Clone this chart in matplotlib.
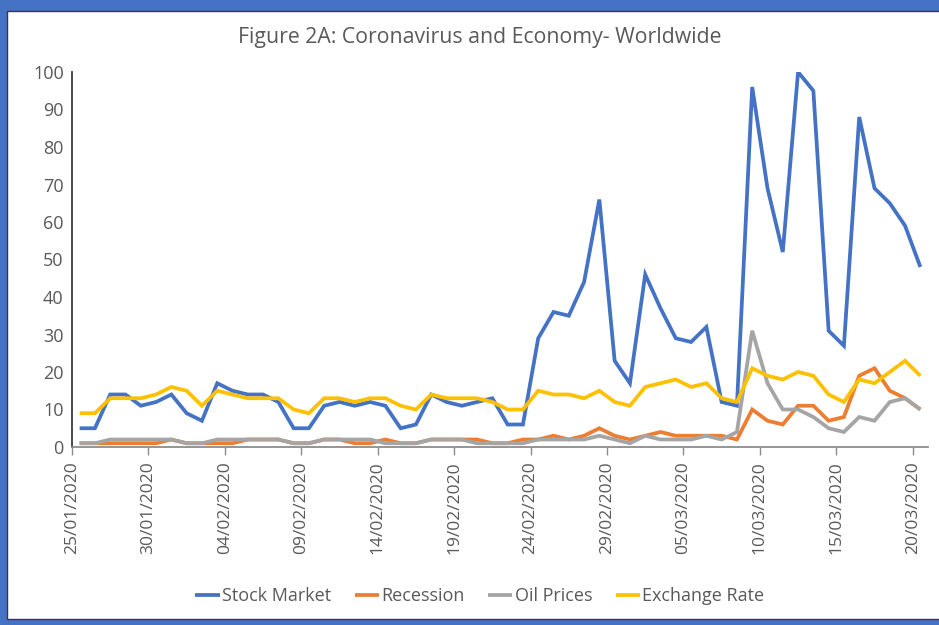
import matplotlib
matplotlib.use("Agg")
import matplotlib.pyplot as plt
import matplotlib.dates as mdates
from matplotlib.patches import Rectangle
import numpy as np
import pandas as pd

plt.rcParams['font.family'] = ['Open Sans', 'DejaVu Sans']

# daily search interest, 25/01/2020 .. 20/03/2020
dates = pd.date_range('2020-01-25', '2020-03-20', freq='D')

stock_market = [5, 5, 14, 14, 11, 12, 14, 9, 7, 17,
                15, 14, 14, 12, 5, 5, 11, 12, 11, 12,
                11, 5, 6, 14, 12, 11, 12, 13, 6, 6,
                29, 36, 35, 44, 66, 23, 17, 46, 37, 29,
                28, 32, 12, 11, 96, 69, 52, 100, 95, 31,
                27, 88, 69, 65, 59, 48]
recession = [1, 1, 1, 1, 1, 1, 2, 1, 1, 1,
             1, 2, 2, 2, 1, 1, 2, 2, 1, 1,
             2, 1, 1, 2, 2, 2, 2, 1, 1, 2,
             2, 3, 2, 3, 5, 3, 2, 3, 4, 3,
             3, 3, 3, 2, 10, 7, 6, 11, 11, 7,
             8, 19, 21, 15, 13, 10]
oil_prices = [1, 1, 2, 2, 2, 2, 2, 1, 1, 2,
              2, 2, 2, 2, 1, 1, 2, 2, 2, 2,
              1, 1, 1, 2, 2, 2, 1, 1, 1, 1,
              2, 2, 2, 2, 3, 2, 1, 3, 2, 2,
              2, 3, 2, 4, 31, 17, 10, 10, 8, 5,
              4, 8, 7, 12, 13, 10]
exchange_rate = [9, 9, 13, 13, 13, 14, 16, 15, 11, 15,
                 14, 13, 13, 13, 10, 9, 13, 13, 12, 13,
                 13, 11, 10, 14, 13, 13, 13, 12, 10, 10,
                 15, 14, 14, 13, 15, 12, 11, 16, 17, 18,
                 16, 17, 13, 12, 21, 19, 18, 20, 19, 14,
                 12, 18, 17, 20, 23, 19]

series = [("Stock Market", stock_market, "#4472C4"),
          ("Recession", recession, "#ED7D31"),
          ("Oil Prices", oil_prices, "#A5A5A5"),
          ("Exchange Rate", exchange_rate, "#FFC000")]

W, H = 939, 625
fig = plt.figure(figsize=(W / 100, H / 100), dpi=100)
fig.patch.set_facecolor("#4472C4")

# white chart area inside the blue frame
fig.add_artist(Rectangle((7 / W, 1 - 619 / H), 1.0, (619 - 11) / H,
                         transform=fig.transFigure, facecolor="white",
                         edgecolor="#3a3a3a", linewidth=1.0, zorder=0))

ax = fig.add_axes([72 / W, 1 - 447 / H, (928 - 72) / W, (447 - 72) / H])
ax.set_facecolor("none")

# points sit in the middle of each day slot
xpos = mdates.date2num(dates) + 0.5
for name, vals, col in series:
    ax.plot(xpos, vals, color=col, linewidth=2.7, label=name,
            solid_joinstyle="miter", solid_capstyle="butt")

x0 = mdates.date2num(dates[0])
ax.set_xlim(x0, x0 + len(dates))
ax.set_ylim(0, 100)
ax.set_yticks(np.arange(0, 101, 10))

tick_dates = dates[::5]
ax.set_xticks(mdates.date2num(tick_dates))
ax.set_xticklabels([d.strftime('%d/%m/%Y') for d in tick_dates],
                   rotation=90, fontsize=12.5, color="#595959")

for s in ["top", "right"]:
    ax.spines[s].set_visible(False)
ax.spines["left"].set_color("#3a3a3a")
ax.spines["left"].set_linewidth(1.3)
ax.spines["bottom"].set_color("#8c8c8c")
ax.spines["bottom"].set_linewidth(1.3)

ax.tick_params(axis="y", length=0, pad=6, labelsize=13, labelcolor="#595959")
ax.tick_params(axis="x", length=6, width=1.0, color="#8c8c8c", pad=4)

fig.text(0.511, 1 - 38 / H, "Figure 2A: Coronavirus and Economy- Worldwide",
         ha="center", va="center", fontsize=15.3, color="#595959")

fig.legend(loc="center", bbox_to_anchor=(0.511, 1 - 596 / H), ncol=4,
           frameon=False, fontsize=13, handlelength=1.35, handletextpad=0.12,
           columnspacing=1.3, labelcolor="#595959")

fig.savefig("out.png", dpi=100, facecolor=fig.get_facecolor())
